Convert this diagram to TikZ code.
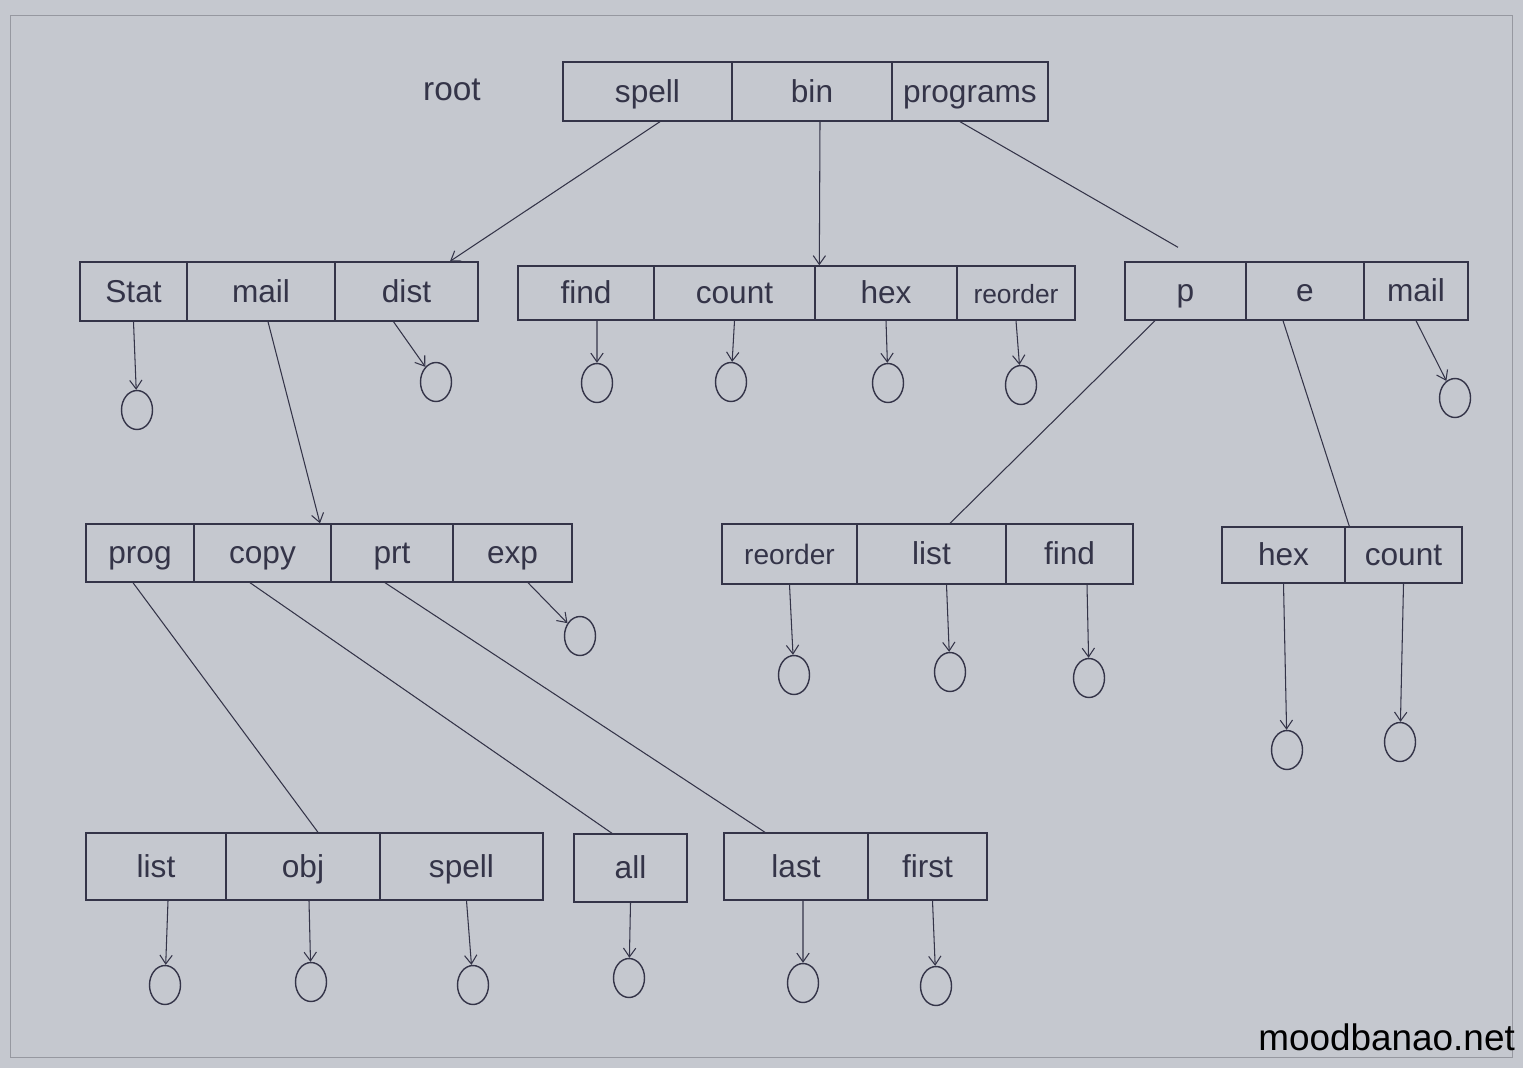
\documentclass[tikz,border=0pt]{standalone}
\usepackage{fontspec}
\setmainfont{Liberation Sans}
\usepackage{tikz}
\usetikzlibrary{shapes.geometric, arrows.meta}
\definecolor{paper}{RGB}{197, 200, 207}
\definecolor{pencil}{RGB}{52, 52, 72}
\definecolor{framegray}{RGB}{150, 152, 160}

\begin{document}
\begin{tikzpicture}[
        x=0.02cm, y=-0.02cm,
        cell/.style={rectangle, draw=pencil, thick, minimum height=1.18cm, inner sep=0pt, text height=15pt, text depth=3pt, text=pencil, font=\fontsize{18}{20}\selectfont},
        leaf/.style={ellipse, draw=pencil, thick, minimum width=0.62cm, minimum height=0.78cm, inner sep=0pt},
        ptr/.style={-{Straight Barb[length=5pt, width=7pt]}, pencil, semithick},
        link/.style={pencil, semithick}
    ]

    % Paper and page frame
    \fill[paper] (0,0) rectangle (1523,1068);
    \draw[framegray, thin] (10,15) rectangle (1512,1057);

    % Root directory
    \node[text=pencil, font=\fontsize{19}{21}\selectfont] (rootlbl) at (452,90) {root};
    \node[cell, minimum width=3.38cm] (rspell) at (647.5,91.5) {spell};
    \node[cell, minimum width=3.2cm] (rbin) at (812,91.5) {bin};
    \node[cell, minimum width=3.12cm] (rprogs) at (970,91.5) {programs};

    % spell directory
    \node[cell, minimum width=2.14cm] (astat) at (133.5,291.5) {Stat};
    \node[cell, minimum width=2.96cm] (amail) at (261,291.5) {mail};
    \node[cell, minimum width=2.86cm] (adist) at (406.5,291.5) {dist};

    % bin directory
    \node[cell, minimum width=2.72cm, minimum height=1.08cm] (bfind) at (586,293) {find};
    \node[cell, minimum width=3.22cm, minimum height=1.08cm] (bcount) at (734.5,293) {count};
    \node[cell, minimum width=2.84cm, minimum height=1.08cm] (bhex) at (886,293) {hex};
    \node[cell, minimum width=2.36cm, minimum height=1.08cm, font=\fontsize{15}{17}\selectfont] (breorder) at (1016,293) {reorder};

    % programs directory
    \node[cell, minimum width=2.42cm, minimum height=1.16cm] (cp) at (1185.5,291) {p};
    \node[cell, minimum width=2.36cm, minimum height=1.16cm] (ce) at (1305,291) {e};
    \node[cell, minimum width=2.08cm, minimum height=1.16cm] (cmail) at (1416,291) {mail};

    % mail directory
    \node[cell, minimum width=2.16cm, minimum height=1.16cm] (dprog) at (140,553) {prog};
    \node[cell, minimum width=2.74cm, minimum height=1.16cm] (dcopy) at (262.5,553) {copy};
    \node[cell, minimum width=2.44cm, minimum height=1.16cm] (dprt) at (392,553) {prt};
    \node[cell, minimum width=2.38cm, minimum height=1.16cm] (dexp) at (512.5,553) {exp};

    % p directory
    \node[cell, minimum width=2.7cm, minimum height=1.2cm, font=\fontsize{16}{18}\selectfont] (ereorder) at (789.5,554) {reorder};
    \node[cell, minimum width=2.98cm, minimum height=1.2cm] (elist) at (931.5,554) {list};
    \node[cell, minimum width=2.54cm, minimum height=1.2cm] (efind) at (1069.5,554) {find};

    % e directory
    \node[cell, minimum width=2.46cm, minimum height=1.12cm] (fhex) at (1283.5,555) {hex};
    \node[cell, minimum width=2.34cm, minimum height=1.12cm] (fcount) at (1403.5,555) {count};

    % prog directory
    \node[cell, minimum width=2.8cm, minimum height=1.34cm] (glist) at (156,866.5) {list};
    \node[cell, minimum width=3.08cm, minimum height=1.34cm] (gobj) at (303,866.5) {obj};
    \node[cell, minimum width=3.26cm, minimum height=1.34cm] (gspell) at (461.5,866.5) {spell};

    % copy directory
    \node[cell, minimum width=2.26cm, minimum height=1.36cm] (hall) at (630.5,868) {all};

    % prt directory
    \node[cell, minimum width=2.88cm, minimum height=1.34cm] (ilast) at (796,866.5) {last};
    \node[cell, minimum width=2.38cm, minimum height=1.34cm] (ifirst) at (927.5,866.5) {first};

    % Files
    \node[leaf] (lstat) at (137,410) {};
    \node[leaf] (ldist) at (436,382) {};
    \node[leaf] (lfind) at (597,383) {};
    \node[leaf] (lcount) at (731,382) {};
    \node[leaf] (lhex) at (888,383) {};
    \node[leaf] (lreorder) at (1021,385) {};
    \node[leaf] (lcmail) at (1455,398) {};
    \node[leaf] (lexp) at (580,636) {};
    \node[leaf] (lereorder) at (794,675) {};
    \node[leaf] (lelist) at (950,672) {};
    \node[leaf] (lefind) at (1089,678) {};
    \node[leaf] (lfhex) at (1287,750) {};
    \node[leaf] (lfcount) at (1400,742) {};
    \node[leaf] (lglist) at (165,985) {};
    \node[leaf] (lgobj) at (311,982) {};
    \node[leaf] (lgspell) at (473,985) {};
    \node[leaf] (lhall) at (629,978) {};
    \node[leaf] (lilast) at (803,983) {};
    \node[leaf] (lifirst) at (936,986) {};

    % Subdirectory links
    \draw[ptr] ([xshift=0.25cm]rspell.south) -- ([xshift=0.87cm]adist.north);
    \draw[ptr] ([xshift=0.16cm]rbin.south) -- ([xshift=0.1cm]bhex.north west);
    \draw[link] ([xshift=-0.2cm]rprogs.south) -- ([xshift=-0.15cm, yshift=0.28cm]cp.north);
    \draw[ptr] ([xshift=0.14cm]amail.south) -- ([xshift=1.15cm]dcopy.north);
    \draw[link] ([xshift=-0.61cm]cp.south) -- ([xshift=0.37cm]elist.north);
    \draw[link] ([xshift=-0.44cm]ce.south) -- ([xshift=0.1cm]fcount.north west);
    \draw[link] ([xshift=-0.14cm]dprog.south) -- ([xshift=0.3cm]gobj.north);
    \draw[link] ([xshift=-0.25cm]dcopy.south) -- ([xshift=-0.37cm]hall.north);
    \draw[link] ([xshift=-0.14cm]dprt.south) -- ([xshift=-0.62cm]ilast.north);

    % File pointers
    \draw[ptr] (astat.south) -- (lstat);
    \draw[ptr] ([xshift=-0.26cm]adist.south) -- (ldist);
    \draw[ptr] ([xshift=0.22cm]bfind.south) -- (lfind);
    \draw[ptr] (bcount.south) -- (lcount);
    \draw[ptr] (bhex.south) -- (lhex);
    \draw[ptr] (breorder.south) -- (lreorder);
    \draw[ptr] (cmail.south) -- (lcmail);
    \draw[ptr] ([xshift=0.31cm]dexp.south) -- (lexp);
    \draw[ptr] (ereorder.south) -- (lereorder);
    \draw[ptr] ([xshift=0.3cm]elist.south) -- (lelist);
    \draw[ptr] ([xshift=0.35cm]efind.south) -- (lefind);
    \draw[ptr] (fhex.south) -- (lfhex);
    \draw[ptr] (fcount.south) -- (lfcount);
    \draw[ptr] ([xshift=0.24cm]glist.south) -- (lglist);
    \draw[ptr] ([xshift=0.12cm]gobj.south) -- (lgobj);
    \draw[ptr] ([xshift=0.1cm]gspell.south) -- (lgspell);
    \draw[ptr] (hall.south) -- (lhall);
    \draw[ptr] ([xshift=0.14cm]ilast.south) -- (lilast);
    \draw[ptr] ([xshift=0.1cm]ifirst.south) -- (lifirst);

    \node[font=\fontsize{21}{24}\selectfont, anchor=east] (site) at (1521,1037) {moodbanao.net};

\end{tikzpicture}
\end{document}
